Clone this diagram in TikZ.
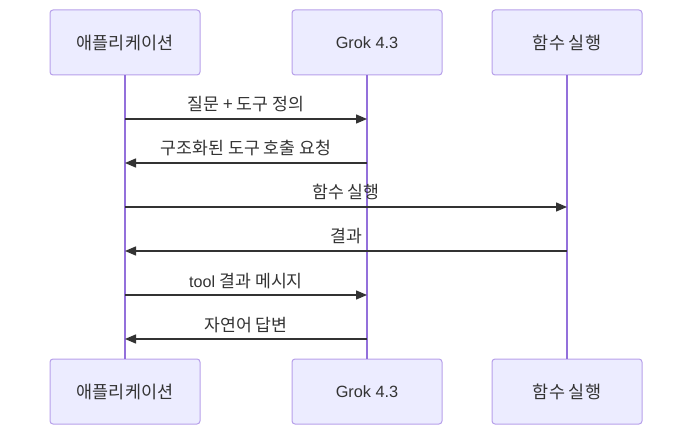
\documentclass[tikz,border=0pt]{standalone}
\usepackage{fontspec}
\setmainfont{Liberation Sans}
\newfontfamily\kr[Scale=1.07]{Noto Sans CJK KR}
\usetikzlibrary{arrows.meta,positioning}
\definecolor{actfill}{HTML}{ECECFF}
\definecolor{actline}{HTML}{B7A0EA}
\definecolor{lifeline}{HTML}{9370DB}
\definecolor{msgcol}{HTML}{333333}

\begin{document}
\begin{tikzpicture}[x=1pt,y=-1pt]
  % estilos
  \tikzstyle{actor}=[rectangle, rounded corners=3pt, draw=actline, fill=actfill, line width=1pt, minimum width=150pt, minimum height=65pt, inner sep=0pt, font=\fontsize{16.3}{19}\selectfont, text=msgcol]
  \tikzstyle{life}=[draw=lifeline, line width=1.6pt]
  \tikzstyle{msg}=[-{Triangle[length=11pt,width=9pt]}, draw=msgcol, fill=msgcol, line width=1.4pt]
  \tikzstyle{lbl}=[anchor=base, yshift=8pt, inner sep=0pt, font=\fontsize{16.1}{19}\selectfont, text=msgcol]

  \useasboundingbox (0,0) rectangle (692,435);

  % participantes arriba
  \node[actor] (app) at (125,42.5) {\kr 애플리케이션};
  \node[actor] (grok) at (367,42.5) {Grok 4.3};
  \node[actor] (func) at (567,42.5) {\kr 함수 실행};

  % participantes abajo
  \node[actor] (appB) at (125,391.5) {\kr 애플리케이션};
  \node[actor] (grokB) at (367,391.5) {Grok 4.3};
  \node[actor] (funcB) at (567,391.5) {\kr 함수 실행};

  % lineas de vida
  \draw[life] (app) -- (appB);
  \draw[life] (grok) -- (grokB);
  \draw[life] (func) -- (funcB);

  % puntos de los mensajes
  \foreach \i/\y in {1/119,2/163,3/207,4/251,5/295,6/339} {
    \coordinate (a\i) at (125,\y);
    \coordinate (g\i) at (367,\y);
    \coordinate (f\i) at (567,\y);
  }

  % mensajes
  \draw[msg] (a1) -- node[lbl] {\kr 질문 + 도구 정의} (g1);
  \draw[msg] (g2) -- node[lbl] {\kr 구조화된 도구 호출 요청} (a2);
  \draw[msg] (a3) -- node[lbl] {\kr 함수 실행} (f3);
  \draw[msg] (f4) -- node[lbl] {\kr 결과} (a4);
  \draw[msg] (a5) -- node[lbl] {tool {\kr 결과 메시지}} (g5);
  \draw[msg] (g6) -- node[lbl] {\kr 자연어 답변} (a6);
\end{tikzpicture}
\end{document}
